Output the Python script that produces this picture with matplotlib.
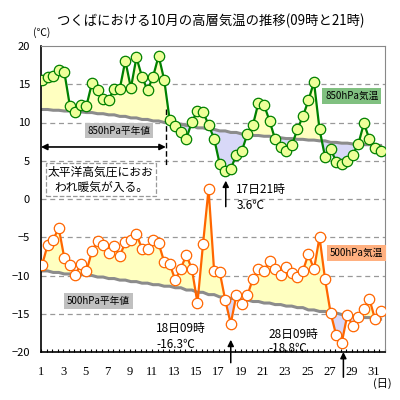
import numpy as np
import matplotlib.pyplot as plt

plt.rcParams['font.family'] = ['Noto Sans CJK JP', 'DejaVu Sans']

# October, twice a day (09 and 21), days 1..31
days = np.arange(1, 32)
t850 = [15.6, 15.9, 16.1, 16.8, 16.6, 12.2, 11.4, 12.3, 12.2, 15.2,
        14.2, 13.1, 13.0, 14.4, 14.4, 18.1, 14.5, 18.5, 16.0, 14.2,
        16.0, 18.7, 15.6, 10.3, 9.5, 8.8, 7.9, 10.1, 11.5, 11.4,
        9.7, 7.9, 4.6, 3.6, 3.9, 5.8, 6.3, 8.5, 9.7, 12.6,
        12.3, 10.2, 7.8, 6.8, 6.3, 7.0, 9.1, 10.8, 12.9, 15.3,
        9.1, 5.5, 6.5, 4.9, 4.6, 5.0, 5.8, 7.2, 9.9, 7.8,
        6.7, 6.3]
t500 = [-8.6, -6.0, -5.3, -3.8, -7.7, -8.6, -9.9, -8.5, -9.4, -6.8,
        -5.5, -6.0, -7.0, -6.1, -7.5, -5.6, -5.4, -4.6, -6.5, -6.5,
        -5.4, -5.8, -8.2, -8.5, -10.6, -9.1, -7.3, -9.2, -13.6, -5.9,
        1.3, -9.4, -9.5, -13.2, -16.3, -12.6, -13.7, -12.6, -10.4, -9.2,
        -9.4, -8.1, -9.2, -9.9, -8.9, -9.7, -10.2, -9.4, -7.2, -9.2,
        -5.0, -10.5, -14.9, -17.8, -18.8, -15.2, -16.6, -15.4, -14.4, -13.1,
        -15.7, -14.6]
# daily normals
n850 = [11.7, 11.6, 11.5, 11.4, 11.3, 11.15, 11.0, 10.8, 10.6, 10.4,
        10.2, 10.0, 9.8, 9.6, 9.3, 9.1, 8.9, 8.7, 8.5, 8.3,
        8.2, 8.0, 7.9, 7.8, 7.7, 7.6, 7.4, 7.3, 7.2, 7.1, 7.0]
n500 = [-9.4, -9.6, -9.8, -9.85, -10.0, -10.2, -10.4, -10.6, -10.8, -11.0,
        -11.2, -11.4, -11.6, -11.9, -12.2, -12.5, -12.8, -13.0, -13.2, -13.4,
        -13.6, -13.8, -14.0, -14.2, -14.5, -14.7, -14.9, -15.1, -15.3, -15.5, -15.7]

x = np.repeat(days, 2) + np.tile([0.1, 0.6], len(days))
t850 = np.array(t850)
t500 = np.array(t500)
n850x = np.repeat(n850, 2)
n500x = np.repeat(n500, 2)

fig = plt.figure(figsize=(4, 4), dpi=100)
ax = fig.add_axes([0.1025, 0.12, 0.86, 0.765])

yellow = '#FFFFC0'
lav = '#D8D8F8'
for t, n in [(t850, n850x), (t500, n500x)]:
    ax.fill_between(x, t, n, where=t >= n, interpolate=True, color=yellow, lw=0, zorder=1)
    ax.fill_between(x, t, n, where=t <= n, interpolate=True, color=lav, lw=0, zorder=1)

ax.plot(x, n850x, color='#8C8C8C', lw=2.2, zorder=2)
ax.plot(x, n500x, color='#8C8C8C', lw=2.2, zorder=2)

ax.plot(x, t850, color='#008000', lw=1.6, marker='o', ms=7.5,
        mfc='#EEFF99', mec='#008000', mew=0.9, zorder=4)
ax.plot(x, t500, color='#FF6600', lw=1.6, marker='o', ms=7.5,
        mfc='white', mec='#FF6600', mew=0.9, zorder=4)

for yv in [-15, -10, -5, 0, 5, 10, 15]:
    ax.axhline(yv, color='#999999', lw=0.9, ls=(0, (4, 3)), zorder=0.5)

ax.set_xlim(1, 32)
ax.set_ylim(-20, 20)
ax.set_yticks(range(-20, 21, 5))
ax.tick_params(axis='y', length=0, pad=8, labelsize=8)
ax.set_xticks(range(1, 32, 2))
ax.set_xticks(np.arange(1, 32.01, 0.5), minor=True)
ax.tick_params(axis='x', which='both', direction='in', length=2.5, width=0.8, pad=10)
for lab in ax.get_xticklabels():
    lab.set_family('Liberation Serif')
    lab.set_fontsize(9)
for s in ['top', 'right']:
    ax.spines[s].set_color('#888888')
for s in ['left', 'bottom']:
    ax.spines[s].set_color('black')
    ax.spines[s].set_linewidth(1.2)

fig.text(0.527, 0.948, 'つくばにおける10月の高層気温の推移(09時と21時)',
         ha='center', va='center', fontsize=9.6)
fig.text(0.105, 0.918, '(℃)', ha='center', va='center', fontsize=7.5)
fig.text(0.955, 0.04, '(日)', ha='center', va='center', fontsize=8)

# series labels
ax.text(8.0, 8.9, '850hPa平年値', ha='center', va='center', fontsize=7,
        bbox=dict(boxstyle='square,pad=0.25', fc='#C0C0C0', ec='none'), zorder=5)
ax.text(29.0, 13.5, '850hPa気温', ha='center', va='center', fontsize=7,
        bbox=dict(boxstyle='square,pad=0.3', fc='#80C080', ec='none'), zorder=5)
ax.text(6.2, -13.3, '500hPa平年値', ha='center', va='center', fontsize=7,
        bbox=dict(boxstyle='square,pad=0.3', fc='#C0C0C0', ec='none'), zorder=5)
ax.text(29.4, -7.1, '500hPa気温', ha='center', va='center', fontsize=7,
        bbox=dict(boxstyle='square,pad=0.3', fc='#FFB080', ec='none'), zorder=5, clip_on=False)

# warm spell
ax.annotate('', xy=(1.0, 6.8), xytext=(12.25, 6.8),
            arrowprops=dict(arrowstyle='<|-|>', color='black', lw=1.2,
                            mutation_scale=9, shrinkA=0, shrinkB=0), zorder=5)
ax.plot([12.25, 12.25], [11.7, 4.3], color='black', lw=1, ls=(0, (4, 2)), zorder=3)
ax.text(6.4, 2.5, '太平洋高気圧におお\nわれ暖気が入る。', ha='center', va='center',
        fontsize=8.5, linespacing=1.25, zorder=5,
        bbox=dict(boxstyle='square,pad=0.2', fc='white', ec='#999999', ls='--', lw=0.9))

# extremes
arrow = dict(arrowstyle='-|>', color='black', lw=1.1, mutation_scale=9, shrinkA=0, shrinkB=0)
ax.annotate('', xy=(17.65, 2.4), xytext=(17.65, -1.0), arrowprops=arrow, zorder=5)
ax.text(18.6, 1.3, '17日21時', ha='left', va='center', fontsize=8.5)
ax.text(18.6, -0.9, '3.6℃', ha='left', va='center', fontsize=8.5)

ax.annotate('', xy=(18.1, -18.4), xytext=(18.1, -21.4), arrowprops=arrow,
            annotation_clip=False, zorder=5)
ax.text(11.4, -16.9, '18日09時', ha='left', va='center', fontsize=8.5)
ax.text(11.4, -19.0, '-16.3℃', ha='left', va='center', fontsize=8.5)

ax.annotate('', xy=(28.25, -20.0), xytext=(28.25, -23.3), arrowprops=arrow,
            annotation_clip=False, zorder=5)
ax.text(21.5, -17.7, '28日09時', ha='left', va='center', fontsize=8.5)
ax.text(21.5, -19.6, '-18.8℃', ha='left', va='center', fontsize=8.5)

fig.savefig('out.png', dpi=100)
